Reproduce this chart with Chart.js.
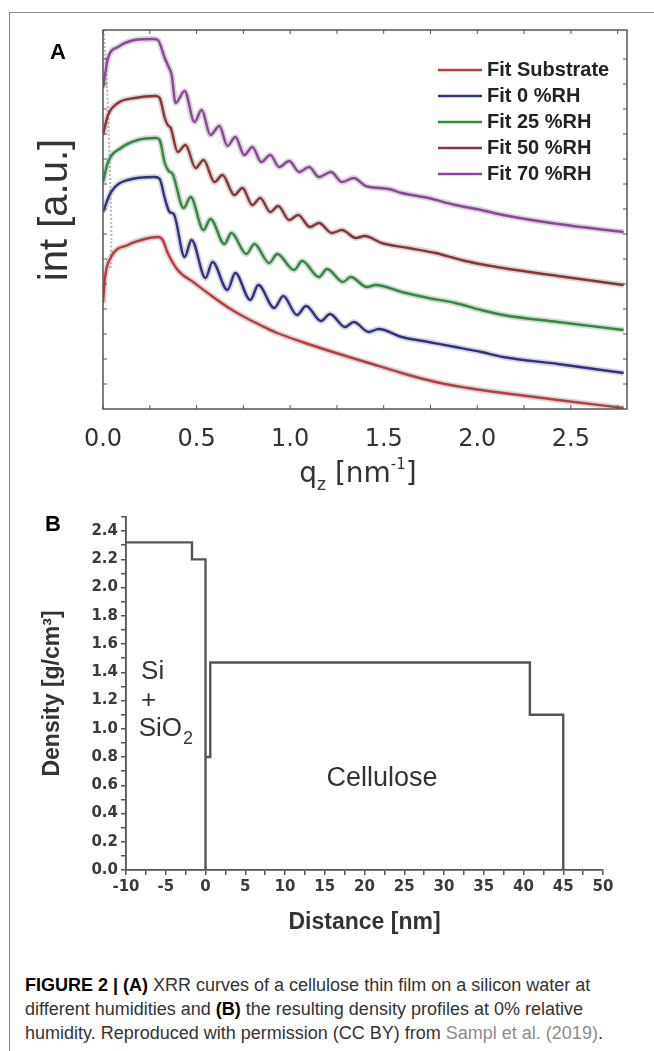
<!DOCTYPE html>
<html lang="en">
<head>
<meta charset="UTF-8">
<title>XRR curves and density profile</title>
<script src="https://cdn.jsdelivr.net/npm/chart.js"></script>
<style>
  body { margin: 0; background: #fff; }
  #page { position: relative; width: 654px; height: 1051px; overflow: hidden; font-family: "Liberation Sans", Arial, sans-serif; }
  .frame-top { position: absolute; left: 9px; top: 12px; width: 645px; height: 1px; background: #8a8a8a; }
  .frame-left { position: absolute; left: 9px; top: 12px; width: 1px; height: 1039px; background: #8a8a8a; }
  .panel-label { position: absolute; font-weight: bold; font-size: 22px; line-height: 22px; color: #000; }
  #boxA { position: absolute; left: 0; top: 0; width: 654px; height: 500px; }
  #boxB { position: absolute; left: 0; top: 500px; width: 654px; height: 450px; }
  .caption { position: absolute; left: 25px; top: 973px; font-size: 18px; line-height: 24px; color: #333; white-space: nowrap; }
  .caption b { color: #000; }
  .caption .ref { color: #8c8c8c; }
</style>
</head>
<body>
<div id="page">
  <div class="frame-top"></div>
  <div class="frame-left"></div>
  <div id="boxA"><canvas id="xrr"></canvas></div>
  <div id="boxB"><canvas id="density"></canvas></div>
  <div class="panel-label" style="left:50px; top:41px;">A</div>
  <div class="panel-label" style="left:45px; top:513px;">B</div>
  <div class="caption">
    <b>FIGURE 2 | (A)</b> XRR curves of a cellulose thin film on a silicon water at<br>
    different humidities and <b>(B)</b> the resulting density profiles at 0% relative<br>
    humidity. Reproduced with permission (CC BY) from <span class="ref">Sampl et al. (2019)</span>.
  </div>
</div>

<script>
  // ---- Panel A: XRR curves (log intensity, curves shifted, arbitrary units) ----
  const qTicks = [0, 0.5, 1.0, 1.5, 2.0, 2.5];
  const qMinorTicks = [0, 0.25, 0.5, 0.75, 1.0, 1.25, 1.5, 1.75, 2.0, 2.25, 2.5, 2.75];
  const intMinorTicks = [2.5, 5, 7.5, 10, 12.5, 15, 17.5, 20, 22.5, 25, 27.5, 30, 32.5, 35];

  const qSub = [0, 0.011, 0.043, 0.133, 0.223, 0.293, 0.319, 0.346, 0.399, 0.489, 0.574, 0.665, 0.755, 0.840, 0.931, 1.064, 1.245, 1.420, 1.596, 1.777, 1.952, 2.138, 2.431, 2.782];
  const intSub = [10.6, 13.2, 15.2, 16.4, 17.0, 17.2, 16.9, 15.6, 13.9, 12.6, 11.4, 10.2, 9.2, 8.4, 7.6, 6.7, 5.6, 4.6, 3.6, 2.7, 2.1, 1.6, 0.9, 0.1];

  const qRH0 = [0, 0.043, 0.133, 0.277, 0.303, 0.330, 0.356, 0.378, 0.436, 0.473, 0.548, 0.585, 0.665, 0.707, 0.787, 0.830, 0.915, 0.963, 1.037, 1.085, 1.165, 1.213, 1.293, 1.340, 1.420, 1.473, 1.596, 1.739, 1.883, 2.021, 2.138, 2.431, 2.782];
  const intRH0 = [19.7, 21.7, 22.9, 23.2, 23.0, 21.1, 19.7, 19.5, 15.2, 16.9, 13.1, 14.7, 11.9, 13.6, 10.9, 12.4, 10.1, 11.3, 9.4, 10.3, 8.8, 9.5, 8.2, 8.7, 7.7, 8.0, 7.2, 6.7, 6.2, 5.7, 5.2, 4.5, 3.6];

  const qRH25 = [0, 0.027, 0.096, 0.186, 0.282, 0.303, 0.330, 0.351, 0.372, 0.431, 0.468, 0.537, 0.574, 0.649, 0.686, 0.766, 0.809, 0.888, 0.931, 1.021, 1.064, 1.154, 1.197, 1.282, 1.324, 1.410, 1.457, 1.596, 1.739, 1.883, 2.021, 2.138, 2.431, 2.782];
  const intRH25 = [22.7, 24.7, 26.1, 26.9, 27.1, 26.9, 24.6, 23.8, 23.5, 20.1, 21.2, 17.9, 19.0, 16.5, 17.6, 15.5, 16.5, 14.6, 15.5, 13.9, 14.8, 13.2, 14.0, 12.7, 13.2, 12.2, 12.4, 11.7, 11.1, 10.6, 9.9, 9.4, 8.7, 7.9];

  const qRH50 = [0, 0.027, 0.080, 0.170, 0.282, 0.303, 0.330, 0.346, 0.362, 0.399, 0.441, 0.495, 0.537, 0.596, 0.638, 0.702, 0.745, 0.798, 0.840, 0.894, 0.936, 0.995, 1.043, 1.106, 1.154, 1.223, 1.277, 1.351, 1.399, 1.489, 1.633, 1.777, 1.915, 2.043, 2.138, 2.431, 2.782];
  const intRH50 = [27.4, 29.4, 30.6, 31.1, 31.3, 31.1, 29.1, 28.4, 28.1, 25.7, 26.4, 24.1, 24.9, 22.7, 23.4, 21.4, 22.1, 20.4, 21.1, 19.7, 20.3, 18.9, 19.4, 18.2, 18.6, 17.6, 17.9, 17.1, 17.3, 16.6, 16.1, 15.6, 14.9, 14.4, 14.1, 13.3, 12.4];

  const qRH70 = [0, 0.027, 0.080, 0.170, 0.266, 0.293, 0.330, 0.351, 0.367, 0.388, 0.436, 0.489, 0.527, 0.574, 0.622, 0.665, 0.707, 0.755, 0.798, 0.846, 0.894, 0.941, 0.995, 1.048, 1.101, 1.154, 1.218, 1.277, 1.340, 1.404, 1.527, 1.596, 1.739, 1.883, 2.021, 2.138, 2.431, 2.782];
  const intRH70 = [32.1, 35.1, 36.2, 36.9, 37.0, 36.9, 35.1, 34.2, 33.4, 30.6, 31.8, 28.7, 29.9, 27.4, 28.3, 26.3, 27.2, 25.4, 26.2, 24.7, 25.4, 24.2, 24.8, 23.7, 24.2, 23.2, 23.7, 22.7, 23.1, 22.3, 22.0, 21.6, 21.1, 20.4, 19.9, 19.4, 18.5, 17.7];

  // measured points near the direct beam (grey, not fitted)
  const qBeam = [0.003, 0.010, 0.020, 0.030, 0.040, 0.045, 0.040];
  const intBeam = [37.9, 36.0, 33.0, 28.0, 22.0, 17.0, 14.0];

  const seriesA = [
    { label: 'Fit Substrate', q: qSub, v: intSub, color: '#c0393d' },
    { label: 'Fit 0 %RH', q: qRH0, v: intRH0, color: '#2d318a' },
    { label: 'Fit 25 %RH', q: qRH25, v: intRH25, color: '#2f8a3e' },
    { label: 'Fit 50 %RH', q: qRH50, v: intRH50, color: '#8c3434' },
    { label: 'Fit 70 %RH', q: qRH70, v: intRH70, color: '#8e449a' }
  ];

  function pts(xs, ys) {
    return xs.map((x, i) => ({ x: x, y: ys[i] }));
  }

  const datasetsA = [];
  seriesA.forEach(s => {
    datasetsA.push({
      label: s.label, data: pts(s.q, s.v), borderColor: s.color, borderWidth: 2.4,
      pointRadius: 0, cubicInterpolationMode: 'monotone', order: 1, inLegend: true
    });
    datasetsA.push({
      label: s.label + ' data', data: pts(s.q, s.v), borderColor: 'rgba(140,140,140,0.35)', borderWidth: 6,
      pointRadius: 0, cubicInterpolationMode: 'monotone', order: 5
    });
  });
  datasetsA.push({
    label: 'beam', data: pts(qBeam, intBeam), borderColor: 'rgba(150,150,150,0.7)', borderWidth: 2,
    borderDash: [2, 2], pointRadius: 0, tension: 0.3, order: 6
  });

  const frameA = {
    id: 'frameA',
    afterDatasetsDraw(chart) {
      const { ctx, chartArea: a, scales: { x, y } } = chart;
      ctx.save();
      ctx.strokeStyle = '#555';
      ctx.lineWidth = 1.5;
      ctx.strokeRect(a.left, a.top, a.right - a.left, a.bottom - a.top);
      ctx.lineWidth = 1;
      ctx.beginPath();
      qMinorTicks.forEach(v => {
        const px = x.getPixelForValue(v);
        ctx.moveTo(px, a.bottom); ctx.lineTo(px, a.bottom - 4);
        ctx.moveTo(px, a.top); ctx.lineTo(px, a.top + 4);
      });
      intMinorTicks.forEach(v => {
        const py = y.getPixelForValue(v);
        ctx.moveTo(a.left, py); ctx.lineTo(a.left + 4, py);
        ctx.moveTo(a.right, py); ctx.lineTo(a.right - 4, py);
      });
      ctx.stroke();

      // legend
      ctx.font = 'bold 20px "Liberation Sans", Arial, sans-serif';
      ctx.textBaseline = 'middle';
      ctx.fillStyle = '#222';
      chart.data.datasets.filter(d => d.inLegend).forEach((d, i) => {
        const ly = 70 + i * 26;
        ctx.strokeStyle = d.borderColor;
        ctx.lineWidth = 2.4;
        ctx.beginPath(); ctx.moveTo(438, ly); ctx.lineTo(482, ly); ctx.stroke();
        ctx.fillText(d.label, 487, ly);
      });

      // y title
      ctx.save();
      ctx.translate(56, 210);
      ctx.rotate(-Math.PI / 2);
      ctx.font = '40px "Liberation Sans", Arial, sans-serif';
      ctx.fillStyle = '#333';
      ctx.textAlign = 'center';
      ctx.textBaseline = 'middle';
      ctx.fillText('int [a.u.]', 0, 0);
      ctx.restore();

      // x title with sub- and superscript
      const parts = [
        { t: 'q', size: 28, dy: 0 },
        { t: 'z', size: 17, dy: 8 },
        { t: ' [nm', size: 28, dy: 0 },
        { t: '-1', size: 15, dy: -13 },
        { t: ']', size: 28, dy: 0 }
      ];
      let w = 0;
      parts.forEach(p => { ctx.font = p.size + 'px "DejaVu Sans", sans-serif'; p.w = ctx.measureText(p.t).width; w += p.w; });
      let cx = (a.left + a.right) / 2 - 7 - w / 2;
      const base = 482;
      ctx.fillStyle = '#333';
      ctx.textBaseline = 'alphabetic';
      ctx.textAlign = 'left';
      parts.forEach(p => {
        ctx.font = p.size + 'px "DejaVu Sans", sans-serif';
        ctx.fillText(p.t, cx, base + p.dy);
        cx += p.w;
      });
      ctx.restore();
    }
  };

  new Chart(document.getElementById('xrr'), {
    type: 'line',
    data: { datasets: datasetsA },
    options: {
      responsive: true,
      maintainAspectRatio: false,
      animation: false,
      layout: { padding: { left: 36, right: 27, top: 30, bottom: 31 } },
      plugins: { legend: { display: false }, tooltip: { enabled: false } },
      scales: {
        x: {
          type: 'linear', min: 0, max: 2.8,
          afterBuildTicks: s => { s.ticks = qTicks.map(v => ({ value: v })); },
          afterFit: s => { s.height = 60; },
          ticks: {
            callback: v => v.toFixed(1), autoSkip: false, maxRotation: 0, padding: 8,
            color: '#333', font: { family: '"DejaVu Sans", sans-serif', size: 24 }
          },
          grid: { display: false },
          border: { display: false }
        },
        y: {
          type: 'linear', min: 0, max: 37.9,
          afterFit: s => { s.width = 67; },
          ticks: { display: false },
          grid: { display: false },
          border: { display: false }
        }
      }
    },
    plugins: [frameA]
  });

  // ---- Panel B: density profile at 0 %RH ----
  const distTicks = [-10, -7.5, -5, -2.5, 0, 2.5, 5, 7.5, 10, 12.5, 15, 17.5, 20, 22.5, 25, 27.5, 30, 32.5, 35, 37.5, 40, 42.5, 45, 47.5, 50];
  const densTicks = [0, 0.1, 0.2, 0.3, 0.4, 0.5, 0.6, 0.7, 0.8, 0.9, 1.0, 1.1, 1.2, 1.3, 1.4, 1.5, 1.6, 1.7, 1.8, 1.9, 2.0, 2.1, 2.2, 2.3, 2.4, 2.5];

  const distSubstrate = [-10, -1.7, -1.7, 0, 0];
  const densSubstrate = [2.32, 2.32, 2.2, 2.2, 0];
  const distFilm = [0, 0.6, 0.6, 40.8, 40.8, 45, 45];
  const densFilm = [0.8, 0.8, 1.47, 1.47, 1.1, 1.1, 0];

  const labelsB = {
    id: 'labelsB',
    afterDraw(chart) {
      const { ctx, scales: { x, y } } = chart;
      ctx.save();
      ctx.fillStyle = '#333';
      ctx.textBaseline = 'middle';
      ctx.textAlign = 'left';
      ctx.font = '26px "Liberation Sans", Arial, sans-serif';
      ctx.fillText('Si', x.getPixelForValue(-8.1), y.getPixelForValue(1.4));
      ctx.fillText('+', x.getPixelForValue(-8.1), y.getPixelForValue(1.2));
      const sx = x.getPixelForValue(-8.4), sy = y.getPixelForValue(1.0);
      ctx.fillText('SiO', sx, sy);
      const sw = ctx.measureText('SiO').width;
      ctx.font = '18px "Liberation Sans", Arial, sans-serif';
      ctx.fillText('2', sx + sw + 1, sy + 10);
      ctx.font = '27px "Liberation Sans", Arial, sans-serif';
      ctx.textAlign = 'center';
      ctx.fillText('Cellulose', x.getPixelForValue(22.2), y.getPixelForValue(0.65));
      ctx.restore();
    }
  };

  const tickFontB = { family: '"DejaVu Sans", sans-serif', size: 15, weight: 'bold' };

  new Chart(document.getElementById('density'), {
    type: 'line',
    data: {
      datasets: [
        { label: 'Si + SiO2', data: pts(distSubstrate, densSubstrate), borderColor: '#555', borderWidth: 2.4, pointRadius: 0, tension: 0 },
        { label: 'Cellulose', data: pts(distFilm, densFilm), borderColor: '#555', borderWidth: 2.4, pointRadius: 0, tension: 0 }
      ]
    },
    options: {
      responsive: true,
      maintainAspectRatio: false,
      animation: false,
      layout: { padding: { left: 39, right: 51, top: 17, bottom: 14 } },
      plugins: { legend: { display: false }, tooltip: { enabled: false } },
      scales: {
        x: {
          type: 'linear', min: -10, max: 50,
          afterBuildTicks: s => { s.ticks = distTicks.map(v => ({ value: v })); },
          afterFit: s => { s.height = 66; },
          ticks: {
            callback: v => (v % 5 === 0 ? String(v) : ''), autoSkip: false, maxRotation: 0, padding: 3,
            color: '#3a3a3a', font: tickFontB
          },
          grid: { drawOnChartArea: false, drawTicks: true, tickLength: 5, color: '#555', lineWidth: 1.5 },
          border: { display: true, color: '#555', width: 1.8 },
          title: {
            display: true, text: 'Distance [nm]', padding: 0, color: '#333',
            font: { family: '"Liberation Sans", Arial, sans-serif', size: 23, weight: 'bold' }
          }
        },
        y: {
          type: 'linear', min: 0, max: 2.5,
          afterBuildTicks: s => { s.ticks = densTicks.map(v => ({ value: v })); },
          afterFit: s => { s.width = 87; },
          ticks: {
            callback: (v, i) => (i % 2 === 0 && v < 2.45 ? v.toFixed(1) : ''), autoSkip: false, padding: 3,
            color: '#3a3a3a', font: tickFontB
          },
          grid: { drawOnChartArea: false, drawTicks: true, tickLength: 5, color: '#555', lineWidth: 1.5 },
          border: { display: true, color: '#555', width: 1.8 },
          title: {
            display: true, text: 'Density [g/cm³]', padding: 0, color: '#333',
            font: { family: '"Liberation Sans", Arial, sans-serif', size: 23, weight: 'bold' }
          }
        }
      }
    },
    plugins: [labelsB]
  });
</script>
</body>
</html>
